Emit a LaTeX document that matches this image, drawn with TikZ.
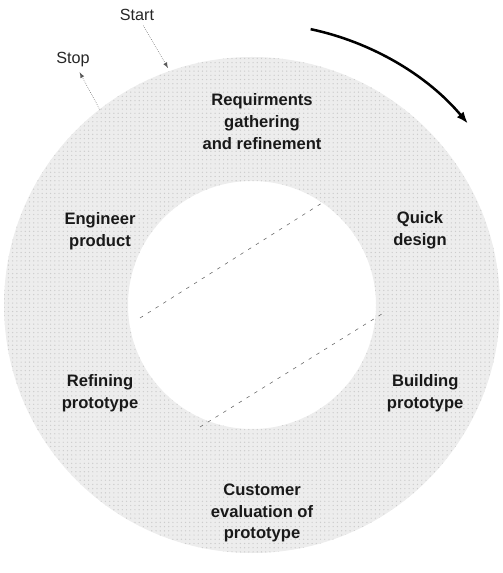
\documentclass[tikz,border=0pt]{standalone}
\usepackage{fontspec}
\setmainfont{Liberation Sans}
\usetikzlibrary{arrows.meta, patterns, calc}

\begin{document}
\begin{tikzpicture}[
    > = latex,
    ringfill/.style={fill=black!7, even odd rule},
    ringdots/.style={pattern=dots, pattern color=black!20, even odd rule},
    phase/.style={font=\fontsize{11.8}{15.5}\selectfont\bfseries, align=center, text=black!90},
    tag/.style={font=\fontsize{11.5}{14}\selectfont, text=black!85},
    pointer/.style={draw=black!65, thin, densely dotted},
    cycle/.style={draw=black, line width=1.8pt, -{Latex[length=3mm, width=2.2mm]}},
    divider/.style={draw=black!60, thin, dash pattern=on 2.5pt off 4pt}
]
    \useasboundingbox (-6.3,-6.7) rectangle (6.25,7.625);

    % 1. The stippled ring of the cycle
    \fill[ringfill] (0,0) circle (6.2cm) (0,0) circle (3.1cm);
    \fill[ringdots] (0,0) circle (6.2cm) (0,0) circle (3.1cm);

    % 2. Direction of the cycle
    \draw[cycle] (78:7.05) arc[start angle=78, end angle=40, radius=7.05];

    % 3. Dashed dividers across the hub
    \coordinate (d1a) at (-2.8,-0.325);
    \coordinate (d1b) at (1.75,2.55);
    \coordinate (d2a) at (-1.3,-3.05);
    \coordinate (d2b) at (3.325,-0.175);
    \draw[divider] (d1a) -- (d1b);
    \draw[divider] (d2a) -- (d2b);

    % 4. Phases around the ring
    \node[phase] (req)   at (0.25,4.58)  {Requirments\\gathering\\and refinement};
    \node[phase] (quick) at (4.2,1.875)  {Quick\\design};
    \node[phase] (build) at (4.33,-2.2)  {Building\\prototype};
    \node[phase] (eval)  at (0.25,-5.2)  {Customer\\evaluation of\\prototype};
    \node[phase] (refine) at (-3.8,-2.2) {Refining\\prototype};
    \node[phase] (eng)   at (-3.8,1.85)  {Engineer\\product};

    % 5. Entry and exit
    \node[tag] (start) at (-2.875,7.25) {Start};
    \node[tag] (stop)  at (-4.475,6.125) {Stop};
    \coordinate (startin) at (-2.1,5.925);
    \coordinate (stopout) at (-3.8,4.875);
    \draw[pointer, ->] (start) -- (startin);
    \draw[pointer, ->] (stopout) -- (stop);

\end{tikzpicture}
\end{document}
